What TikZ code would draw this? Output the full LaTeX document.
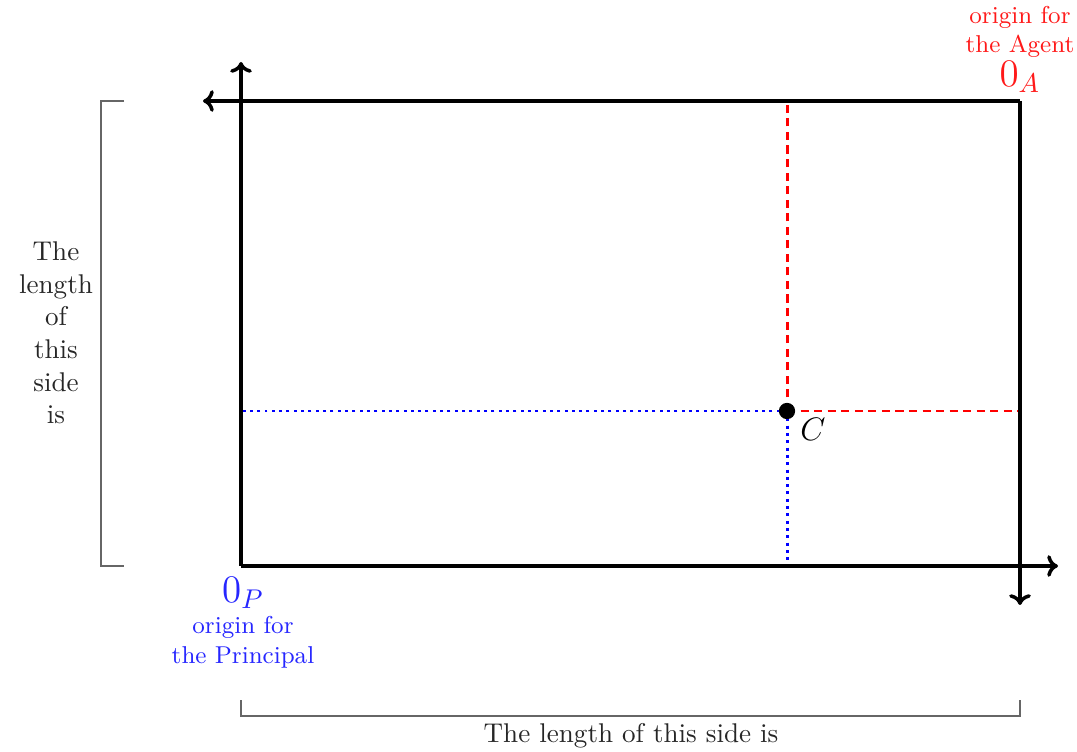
\documentclass[tikz,border=0pt]{standalone}
\usetikzlibrary{arrows.meta}
\begin{document}
\begin{tikzpicture}[x=0.369pt,y=-0.369pt,
  axis/.style={line width=1.3pt,-{To[length=4pt,width=8pt]}},
  agentline/.style={red,line width=1.1pt,dash pattern=on 3pt off 2pt},
  princline/.style={blue,line width=1.1pt,dash pattern=on 1.1pt off 1.6pt},
  bracket/.style={gray!80!black,line width=0.6pt},
  lbl/.style={align=center,inner sep=0pt}]
\useasboundingbox (0,0) rectangle (1077,752);
% key points
\coordinate (P) at (241,566);
\coordinate (A) at (1020,101);
\coordinate (Pup) at (241,62);
\coordinate (Pright) at (1058,566);
\coordinate (Aleft) at (203,101);
\coordinate (Adown) at (1020,605);
\coordinate (Ctop) at (787,101);
\coordinate (Cright) at (1020,411);
\coordinate (Cleft) at (241,411);
\coordinate (Cbottom) at (787,566);
\coordinate (Cpt) at (787,411);
% guide lines
\draw[agentline] (Cpt) -- (Ctop);
\draw[agentline] (Cpt) -- (Cright);
\draw[princline] (Cpt) -- (Cleft);
\draw[princline] (Cpt) -- (Cbottom);
% axes
\draw[axis] (P) -- (Pup);
\draw[axis] (P) -- (Pright);
\draw[axis] (A) -- (Aleft);
\draw[axis] (A) -- (Adown);
% point C
\node[circle,fill=black,inner sep=0pt,minimum size=6pt] (C) at (Cpt) {};
\node[anchor=north west,inner sep=1pt] (Clbl) at (797,415) {\large $C$};
% origin labels
\node[lbl,blue!85!white] (OP) at (243,593) {\Large $0_P$};
\node[lbl,blue!85!white] (OPtxt) at (243,642) {\small origin for\\[-1pt]\small the Principal};
\node[lbl,red!90!white] (OA) at (1020,77) {\Large $0_A$};
\node[lbl,red!90!white] (OAtxt) at (1020,32) {\small origin for\\[-1pt]\small the Agent};
% brackets
\coordinate (LBt) at (124,101);
\coordinate (LBb) at (124,566);
\draw[bracket] (LBt) -- (101,101) -- (101,566) -- (LBb);
\coordinate (BBl) at (241,700);
\coordinate (BBr) at (1020,700);
\draw[bracket] (BBl) -- (241,716) -- (1020,716) -- (BBr);
\node[lbl,text=black!85] (Ltxt) at (56,333) {The\\length\\of\\this\\side\\is};
\node[lbl,text=black!85] (Btxt) at (631,736) {The length of this side is};
\end{tikzpicture}
\end{document}
